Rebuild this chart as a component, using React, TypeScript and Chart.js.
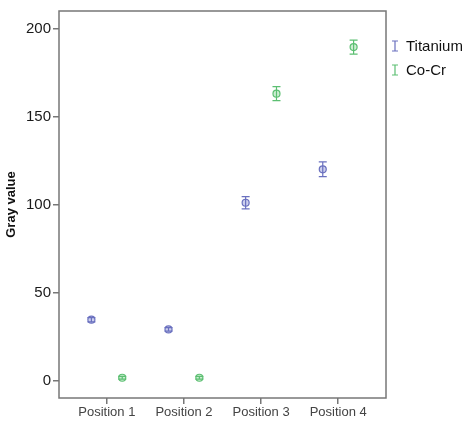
import React, { useEffect, useRef } from "react";
import { Chart, registerables } from "chart.js";

Chart.register(...registerables);

const categories = ["Position 1", "Position 2", "Position 3", "Position 4"];
const titaniumMean = [34.5, 29, 101, 120];
const titaniumErr = [1.2, 1.0, 3.5, 4.2];
const cocrMean = [1.5, 1.5, 163, 189.5];
const cocrErr = [0.8, 0.8, 4.0, 4.0];
const yTicks = [0, 50, 100, 150, 200];
const seriesNames = ["Titanium", "Co-Cr"];
const seriesColors = ["#6a70bf", "#5cbf72"];
const seriesFills = ["rgba(170,175,225,0.6)", "rgba(170,225,180,0.6)"];
const seriesOffsets = [-0.2, 0.2];

const errPlugin = {
  id: "errbars",
  afterDatasetsDraw(chart: any) {
    const ctx = chart.ctx;
    const ys = chart.scales.y;
    chart.data.datasets.forEach((ds: any, di: number) => {
      const meta = chart.getDatasetMeta(di);
      ctx.save();
      ctx.strokeStyle = seriesColors[di];
      ctx.lineWidth = 1.2;
      meta.data.forEach((pt: any, i: number) => {
        const raw = ds.data[i];
        const top = ys.getPixelForValue(raw.y + raw.e);
        const bot = ys.getPixelForValue(raw.y - raw.e);
        const x = pt.x;
        ctx.beginPath();
        ctx.moveTo(x, top);
        ctx.lineTo(x, bot);
        ctx.moveTo(x - 4, top);
        ctx.lineTo(x + 4, top);
        ctx.moveTo(x - 4, bot);
        ctx.lineTo(x + 4, bot);
        ctx.stroke();
      });
      ctx.restore();
    });
  },
  afterDraw(chart: any) {
    const ctx = chart.ctx;
    const a = chart.chartArea;
    ctx.save();
    ctx.strokeStyle = "#777";
    ctx.lineWidth = 1.5;
    ctx.strokeRect(a.left, a.top, a.right - a.left, a.bottom - a.top);
    // legend
    ctx.font = "15px 'Liberation Sans', Arial, sans-serif";
    ctx.textBaseline = "middle";
    ctx.textAlign = "left";
    seriesNames.forEach((name, i) => {
      const cy = 46 + i * 24;
      const x = 395;
      ctx.strokeStyle = seriesColors[i];
      ctx.lineWidth = 1.2;
      ctx.beginPath();
      ctx.moveTo(x, cy - 5);
      ctx.lineTo(x, cy + 5);
      ctx.moveTo(x - 3, cy - 5);
      ctx.lineTo(x + 3, cy - 5);
      ctx.moveTo(x - 3, cy + 5);
      ctx.lineTo(x + 3, cy + 5);
      ctx.stroke();
      ctx.fillStyle = "#111";
      ctx.fillText(name, 406, cy + 1);
    });
    ctx.restore();
  },
};

export default function App() {
  const ref = useRef<HTMLCanvasElement>(null);
  useEffect(() => {
    document.body.style.margin = "0";
    const means = [titaniumMean, cocrMean];
    const errs = [titaniumErr, cocrErr];
    const chart = new Chart(ref.current!, {
      type: "scatter",
      data: {
        datasets: seriesNames.map((name, si) => ({
          label: name,
          data: categories.map((_, i) => ({
            x: i + 1 + seriesOffsets[si],
            y: means[si][i],
            e: errs[si][i],
          })),
          pointRadius: 3.5,
          pointBorderWidth: 1.2,
          borderColor: seriesColors[si],
          backgroundColor: seriesFills[si],
        })),
      } as any,
      options: {
        animation: false,
        responsive: false,
        layout: { padding: { top: 11, right: 79, left: 0, bottom: 0 } },
        plugins: { legend: { display: false }, tooltip: { enabled: false } },
        scales: {
          x: {
            type: "linear",
            min: 0.38,
            max: 4.62,
            afterBuildTicks: (s: any) => {
              s.ticks = categories.map((_, i) => ({ value: i + 1 }));
            },
            afterFit: (s: any) => {
              s.height = 28;
            },
            ticks: {
              callback: (v: any) => categories[Math.round(v) - 1] ?? "",
              font: { size: 13, family: "'Liberation Sans', Arial, sans-serif" },
              color: "#444",
              padding: 1,
              maxRotation: 0,
              autoSkip: false,
            },
            grid: { drawOnChartArea: false, tickLength: 6, color: "#777", lineWidth: 1.5 },
            border: { display: false },
          },
          y: {
            min: -10,
            max: 210,
            afterBuildTicks: (s: any) => {
              s.ticks = yTicks.map((v) => ({ value: v }));
            },
            afterFit: (s: any) => {
              s.width = 59;
            },
            ticks: {
              font: { size: 15, family: "'Liberation Sans', Arial, sans-serif" },
              color: "#1a1a1a",
              padding: 2,
            },
            title: {
              display: true,
              text: "Gray value",
              font: { size: 13, weight: "bold", family: "'Liberation Sans', Arial, sans-serif" },
              color: "#111",
              padding: { top: 4, bottom: 0 },
            },
            grid: { drawOnChartArea: false, tickLength: 6, color: "#777", lineWidth: 1.5 },
            border: { display: false },
          },
        },
      } as any,
      plugins: [errPlugin],
    });
    return () => chart.destroy();
  }, []);
  return <canvas ref={ref} width={465} height={426} style={{ display: "block" }} />;
}
